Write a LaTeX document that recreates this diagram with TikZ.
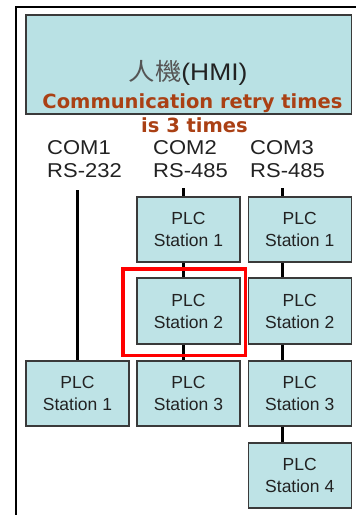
\documentclass[tikz,border=0pt]{standalone}
\usepackage{fontspec}
\setmainfont{Liberation Sans}
\newfontfamily\arialw[FakeStretch=1.1]{Liberation Sans}
\newfontfamily\arialn{Liberation Sans}
\newfontfamily\cjk{Noto Sans CJK TC}
\newfontfamily\dvs{DejaVu Sans}
\definecolor{boxfill}{RGB}{190,227,230}
\definecolor{hmifill}{RGB}{185,225,228}
\definecolor{boxline}{RGB}{58,58,58}
\definecolor{retry}{RGB}{170,64,20}
\definecolor{txt}{RGB}{34,34,34}
\tikzset{
  plcbox/.style={draw=boxline, line width=1.5pt, fill=boxfill, minimum width=103pt,
    minimum height=65pt, inner sep=0pt, align=center, text=txt,
    font=\arialn\fontsize{17.5}{22}\selectfont},
  wire/.style={line width=2.7pt, black},
  comlabel/.style={anchor=base west, inner sep=0pt, text=txt,
    font=\arialw\fontsize{20}{23}\selectfont},
  retrytext/.style={anchor=base, inner sep=0pt, text=retry,
    font=\dvs\bfseries\fontsize{19.5}{24}\selectfont},
}
\begin{document}
\begin{tikzpicture}[x=1pt,y=-1pt]
\useasboundingbox (0,0) rectangle (356,515);
\fill[white] (0,0) rectangle (356,515);
% frame
\draw[line width=1.5pt] (16,515) -- (16,7) -- (356,7);
% HMI box
\node[draw=boxline, line width=1.5pt, fill=hmifill, minimum width=325.7pt, minimum height=99pt, inner sep=0pt] (hmi) at (188.85,64.5) {};
\node[anchor=base, inner sep=0pt] (hmitext) at (188,80) {\cjk\fontsize{24}{28}\selectfont\color[RGB]{85,85,85}\scalebox{1.1}[1]{人機}\arialw\color[RGB]{34,34,34}(HMI)};
\node[retrytext] (retry1) at (192.5,108) {Communication retry times};
\node[retrytext] (retry2) at (194.5,132) {is 3 times};
% COM labels
\node[comlabel] (com1) at (47,154) {COM1};
\node[comlabel] (rs1) at (47,177) {RS-232};
\node[comlabel] (com2) at (153,154) {COM2};
\node[comlabel] (rs2) at (153,177) {RS-485};
\node[comlabel] (com3) at (250,154) {COM3};
\node[comlabel] (rs3) at (250,177) {RS-485};
% boxes
\node[plcbox] (c1s1) at (77.5,393.5) {PLC\\Station 1};
\node[plcbox] (c2s1) at (188.5,229.5) {PLC\\Station 1};
\node[plcbox, minimum height=66pt] (c2s2) at (188.5,311) {PLC\\Station 2};
\node[plcbox] (c2s3) at (188.5,393.5) {PLC\\Station 3};
\node[plcbox] (c3s1) at (299.75,229.5) {PLC\\Station 1};
\node[plcbox, minimum height=66pt] (c3s2) at (299.75,311) {PLC\\Station 2};
\node[plcbox] (c3s3) at (299.75,393.5) {PLC\\Station 3};
\node[plcbox] (c3s4) at (299.75,475.5) {PLC\\Station 4};
% wire tops
\coordinate (t1) at (77.5,190);
\coordinate (t2) at (183.5,188);
\coordinate (t3) at (282.75,188);
% wires
\draw[wire] (t1) -- (c1s1.north);
\draw[wire] (t2) -- ([xshift=-5pt]c2s1.north);
\draw[wire] ([xshift=-5pt]c2s1.south) -- ([xshift=-5pt]c2s2.north);
\draw[wire] ([xshift=-5pt]c2s2.south) -- ([xshift=-5pt]c2s3.north);
\draw[wire] (t3) -- ([xshift=-17pt]c3s1.north);
\draw[wire] ([xshift=-17pt]c3s1.south) -- ([xshift=-17pt]c3s2.north);
\draw[wire] ([xshift=-17pt]c3s2.south) -- ([xshift=-17pt]c3s3.north);
\draw[wire] ([xshift=-17pt]c3s3.south) -- ([xshift=-17pt]c3s4.north);
% highlight
\draw[red, line width=3.3pt] (123,269) rectangle (245.5,355.5);
\end{tikzpicture}
\end{document}
